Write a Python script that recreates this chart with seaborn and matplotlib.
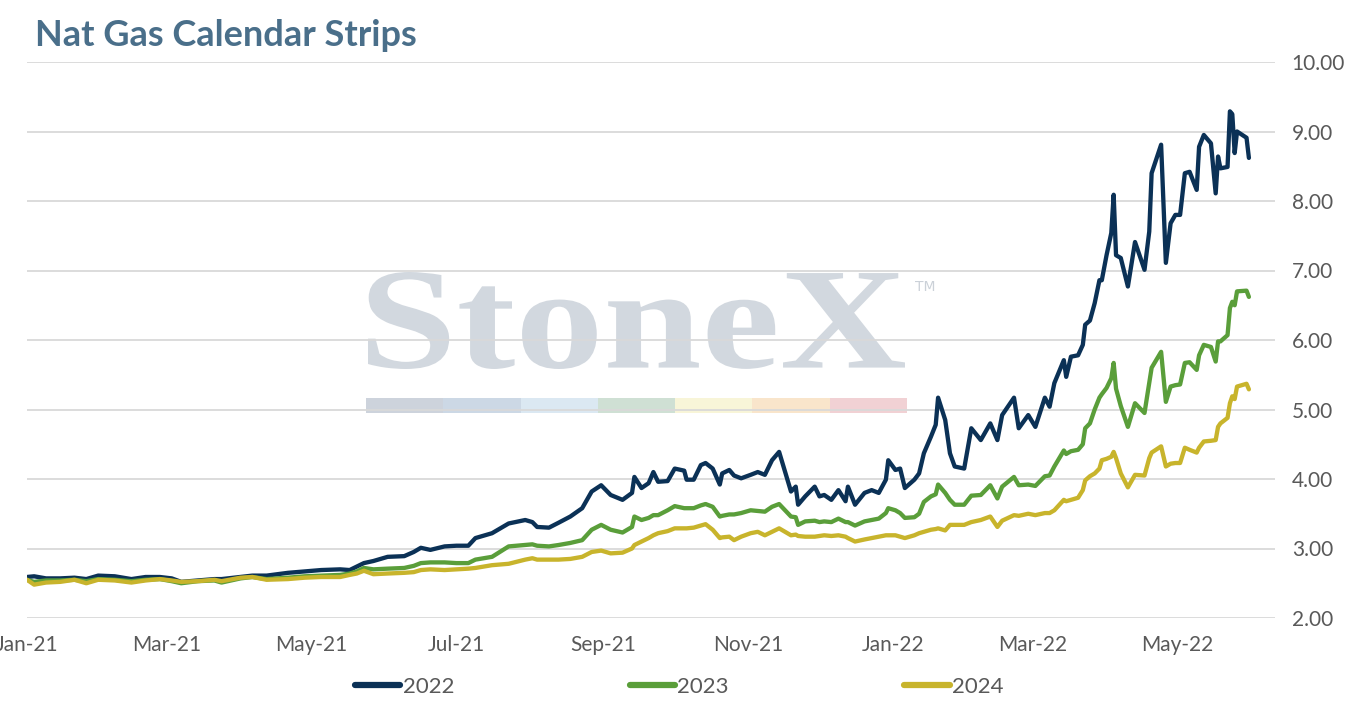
import numpy as np
import pandas as pd
import matplotlib
matplotlib.use("Agg")
import matplotlib.pyplot as plt
import matplotlib.dates as mdates
from matplotlib.ticker import FormatStrFormatter, FixedLocator
from matplotlib.textpath import TextPath
from matplotlib.patches import PathPatch, Rectangle
from matplotlib.font_manager import FontProperties
from matplotlib.transforms import Affine2D
from matplotlib.lines import Line2D
import seaborn as sns

# ---------------- data ----------------
start_date = "2021-01-01"
# trading days, counted as days elapsed since start_date
day = [
    0, 3, 8, 14, 20, 25, 30, 37, 44, 50,
    56, 61, 65, 72, 79, 82, 90, 95, 101, 110,
    117, 124, 132, 136, 139, 142, 146, 152, 159, 163,
    166, 170, 176, 181, 186, 189, 196, 203, 210, 213,
    215, 220, 224, 229, 234, 238, 242, 246, 251, 255,
    256, 259, 262, 264, 266, 270, 273, 277, 278, 281,
    284, 286, 289, 292, 293, 296, 298, 301, 305, 308,
    311, 314, 317, 322, 324, 325, 328, 332, 334, 336,
    339, 342, 345, 346, 349, 353, 356, 359, 362, 363,
    366, 368, 370, 374, 376, 378, 381, 383, 384, 387,
    389, 391, 395, 398, 402, 406, 409, 411, 416, 418,
    422, 425, 429, 431, 433, 437, 438, 440, 443, 445,
    446, 448, 450, 452, 453, 455, 457, 458, 459, 461,
    464, 467, 471, 473, 474, 478, 480, 482, 484, 486,
    488, 490, 493, 494, 496, 499, 501, 502, 503, 506,
    507, 508, 509, 510, 514, 515,
]
cal_2022 = [
    2.59, 2.60, 2.57, 2.57, 2.58, 2.56, 2.61, 2.60, 2.56, 2.59,
    2.59, 2.57, 2.52, 2.54, 2.56, 2.56, 2.59, 2.61, 2.61, 2.65,
    2.67, 2.69, 2.70, 2.69, 2.74, 2.79, 2.82, 2.88, 2.89, 2.95,
    3.01, 2.98, 3.03, 3.04, 3.04, 3.15, 3.22, 3.36, 3.41, 3.38,
    3.31, 3.30, 3.37, 3.46, 3.58, 3.82, 3.91, 3.77, 3.70, 3.80,
    4.03, 3.87, 3.94, 4.10, 3.96, 3.97, 4.15, 4.12, 3.99, 3.99,
    4.20, 4.23, 4.15, 3.92, 4.08, 4.13, 4.05, 4.01, 4.06, 4.10,
    4.06, 4.27, 4.39, 3.82, 3.89, 3.63, 3.75, 3.89, 3.75, 3.77,
    3.70, 3.84, 3.68, 3.89, 3.63, 3.80, 3.84, 3.80, 3.99, 4.27,
    4.13, 4.15, 3.87, 3.99, 4.08, 4.37, 4.61, 4.78, 5.17, 4.85,
    4.37, 4.18, 4.15, 4.73, 4.56, 4.80, 4.56, 4.92, 5.17, 4.73,
    4.92, 4.75, 5.17, 5.04, 5.38, 5.71, 5.47, 5.76, 5.78, 5.93,
    6.22, 6.28, 6.53, 6.86, 6.86, 7.22, 7.54, 8.09, 7.22, 7.18,
    6.77, 7.41, 7.01, 7.56, 8.40, 8.81, 7.11, 7.68, 7.80, 7.80,
    8.40, 8.42, 8.16, 8.78, 8.95, 8.83, 8.11, 8.64, 8.47, 8.49,
    9.29, 9.25, 8.69, 9.00, 8.91, 8.62,
]
cal_2023 = [
    2.55, 2.52, 2.54, 2.54, 2.55, 2.53, 2.56, 2.55, 2.53, 2.55,
    2.56, 2.53, 2.50, 2.53, 2.54, 2.51, 2.57, 2.59, 2.56, 2.58,
    2.60, 2.61, 2.62, 2.64, 2.67, 2.72, 2.70, 2.71, 2.72, 2.75,
    2.79, 2.80, 2.80, 2.79, 2.79, 2.84, 2.88, 3.03, 3.05, 3.06,
    3.04, 3.03, 3.05, 3.08, 3.12, 3.27, 3.34, 3.27, 3.23, 3.31,
    3.46, 3.41, 3.44, 3.48, 3.48, 3.55, 3.61, 3.58, 3.58, 3.58,
    3.62, 3.64, 3.60, 3.46, 3.47, 3.49, 3.49, 3.51, 3.55, 3.54,
    3.53, 3.60, 3.64, 3.46, 3.45, 3.34, 3.39, 3.40, 3.38, 3.39,
    3.38, 3.43, 3.38, 3.38, 3.33, 3.39, 3.41, 3.43, 3.51, 3.58,
    3.55, 3.51, 3.44, 3.45, 3.50, 3.67, 3.75, 3.78, 3.92, 3.80,
    3.70, 3.63, 3.63, 3.76, 3.77, 3.91, 3.72, 3.89, 4.03, 3.91,
    3.92, 3.90, 4.04, 4.05, 4.18, 4.41, 4.36, 4.40, 4.42, 4.50,
    4.73, 4.80, 5.00, 5.17, 5.22, 5.31, 5.45, 5.67, 5.30, 5.05,
    4.75, 5.09, 4.95, 5.38, 5.60, 5.83, 5.11, 5.33, 5.35, 5.36,
    5.67, 5.68, 5.57, 5.78, 5.93, 5.90, 5.69, 5.98, 5.98, 6.07,
    6.46, 6.55, 6.50, 6.70, 6.71, 6.62,
]
cal_2024 = [
    2.55, 2.48, 2.51, 2.52, 2.55, 2.50, 2.55, 2.54, 2.51, 2.54,
    2.56, 2.54, 2.52, 2.53, 2.55, 2.53, 2.58, 2.59, 2.55, 2.56,
    2.58, 2.59, 2.59, 2.62, 2.64, 2.68, 2.63, 2.64, 2.65, 2.66,
    2.69, 2.70, 2.69, 2.70, 2.71, 2.72, 2.76, 2.78, 2.84, 2.86,
    2.84, 2.84, 2.84, 2.85, 2.88, 2.95, 2.97, 2.93, 2.94, 3.00,
    3.05, 3.10, 3.15, 3.19, 3.22, 3.25, 3.29, 3.29, 3.29, 3.30,
    3.33, 3.35, 3.27, 3.15, 3.16, 3.17, 3.12, 3.17, 3.22, 3.24,
    3.19, 3.24, 3.29, 3.19, 3.20, 3.18, 3.17, 3.17, 3.18, 3.19,
    3.18, 3.19, 3.17, 3.15, 3.10, 3.13, 3.15, 3.17, 3.19, 3.19,
    3.19, 3.17, 3.15, 3.19, 3.22, 3.24, 3.27, 3.28, 3.29, 3.26,
    3.34, 3.34, 3.34, 3.38, 3.41, 3.46, 3.31, 3.40, 3.48, 3.47,
    3.50, 3.48, 3.51, 3.51, 3.55, 3.70, 3.68, 3.70, 3.73, 3.84,
    3.98, 4.04, 4.08, 4.15, 4.27, 4.29, 4.32, 4.39, 4.30, 4.08,
    3.88, 4.06, 4.05, 4.30, 4.38, 4.47, 4.18, 4.22, 4.23, 4.23,
    4.45, 4.42, 4.38, 4.45, 4.54, 4.55, 4.56, 4.75, 4.80, 4.88,
    5.09, 5.19, 5.15, 5.33, 5.37, 5.29,
]
series_names = ["2022", "2023", "2024"]
series_colors = ["#0b3156", "#5a9e3a", "#c8b42c"]
y_ticks = [2, 3, 4, 5, 6, 7, 8, 9, 10]
x_limits = ("2021-01-01", "2022-06-11")
title_text = "Nat Gas Calendar Strips"
watermark_text = "StoneX"
watermark_bar_colors = ["#cdd3dc", "#ccd8e5", "#dbe8f2", "#cfe0d4",
                        "#f8f5d8", "#f9e5cb", "#f1d1d4"]

# ---------------- frame ----------------
dates = pd.Timestamp(start_date) + pd.to_timedelta(day, unit="D")
df = pd.concat([
    pd.DataFrame({"date": dates, "price": vals, "strip": name})
    for name, vals in zip(series_names, [cal_2022, cal_2023, cal_2024])
], ignore_index=True)

sns.set_theme(style="white")
plt.rcParams["font.family"] = ["Lato", "DejaVu Sans"]

W, H = 1353, 708
fig = plt.figure(figsize=(W / 100, H / 100), dpi=100)
ax = fig.add_axes([27 / W, 1 - 618 / H, (1275 - 27) / W, (618 - 62) / H])

sns.lineplot(data=df, x="date", y="price", hue="strip",
             palette=dict(zip(series_names, series_colors)),
             linewidth=3.1, legend=False, ax=ax, zorder=3)

ax.set_xlim(pd.Timestamp(x_limits[0]), pd.Timestamp(x_limits[1]))
ax.set_ylim(min(y_ticks), max(y_ticks))
ax.set_xlabel("")
ax.set_ylabel("")

for s in ax.spines.values():
    s.set_visible(False)
ax.set_axisbelow(True)
ax.yaxis.grid(True, color="#d9d9d9", linewidth=1.3)
ax.xaxis.grid(False)

ax.yaxis.tick_right()
ax.yaxis.set_major_locator(FixedLocator(y_ticks))
ax.yaxis.set_major_formatter(FormatStrFormatter("%.2f"))
ax.xaxis.set_major_locator(mdates.MonthLocator(bymonth=[1, 3, 5, 7, 9, 11]))
ax.xaxis.set_major_formatter(mdates.DateFormatter("%b-%y"))
ax.tick_params(axis="y", length=0, pad=12, labelsize=15, labelcolor="#595959")
ax.tick_params(axis="x", length=0, pad=12, labelsize=15, labelcolor="#595959")

# ---------------- watermark ----------------
tp = TextPath((0, 0), watermark_text, size=100,
              prop=FontProperties(family="Liberation Serif", weight="bold"))
ext = tp.get_extents()
bx0, bx1, btop, bbot = 368, 905, 272, 369
trf = (Affine2D()
       .translate(-ext.x0, -ext.y0)
       .scale((bx1 - bx0) / ext.width / W, (bbot - btop) / ext.height / H)
       .translate(bx0 / W, 1 - bbot / H))
ax.add_patch(PathPatch(tp, transform=trf + fig.transFigure,
                       facecolor="#d2d8df", edgecolor="none",
                       zorder=0.3, clip_on=False))
fig.text(915 / W, 1 - 287 / H, "TM", fontsize=10, color="#cbd1d8",
         va="center", ha="left", family=["DejaVu Sans"])
seg_w = (907 - 366) / len(watermark_bar_colors)
for i, c in enumerate(watermark_bar_colors):
    ax.add_patch(Rectangle(((366 + i * seg_w) / W, 1 - 413 / H), seg_w / W,
                           15 / H, transform=fig.transFigure, facecolor=c,
                           edgecolor="none", zorder=0.3, clip_on=False))

# ---------------- title & legend ----------------
fig.text(35 / W, 1 - 35 / H, title_text, fontsize=26, fontweight="bold",
         color="#4a6f8a", ha="left", va="center")

handles = [Line2D([], [], color=c, linewidth=4.5) for c in series_colors]
leg = fig.legend(handles, series_names, loc="center",
                 bbox_to_anchor=(0.502, 1 - 687 / H), ncol=3, frameon=False,
                 fontsize=16, handlelength=2.05, handletextpad=0.1,
                 columnspacing=7.9)
for t in leg.get_texts():
    t.set_color("#595959")

fig.savefig("out.png", dpi=100)
